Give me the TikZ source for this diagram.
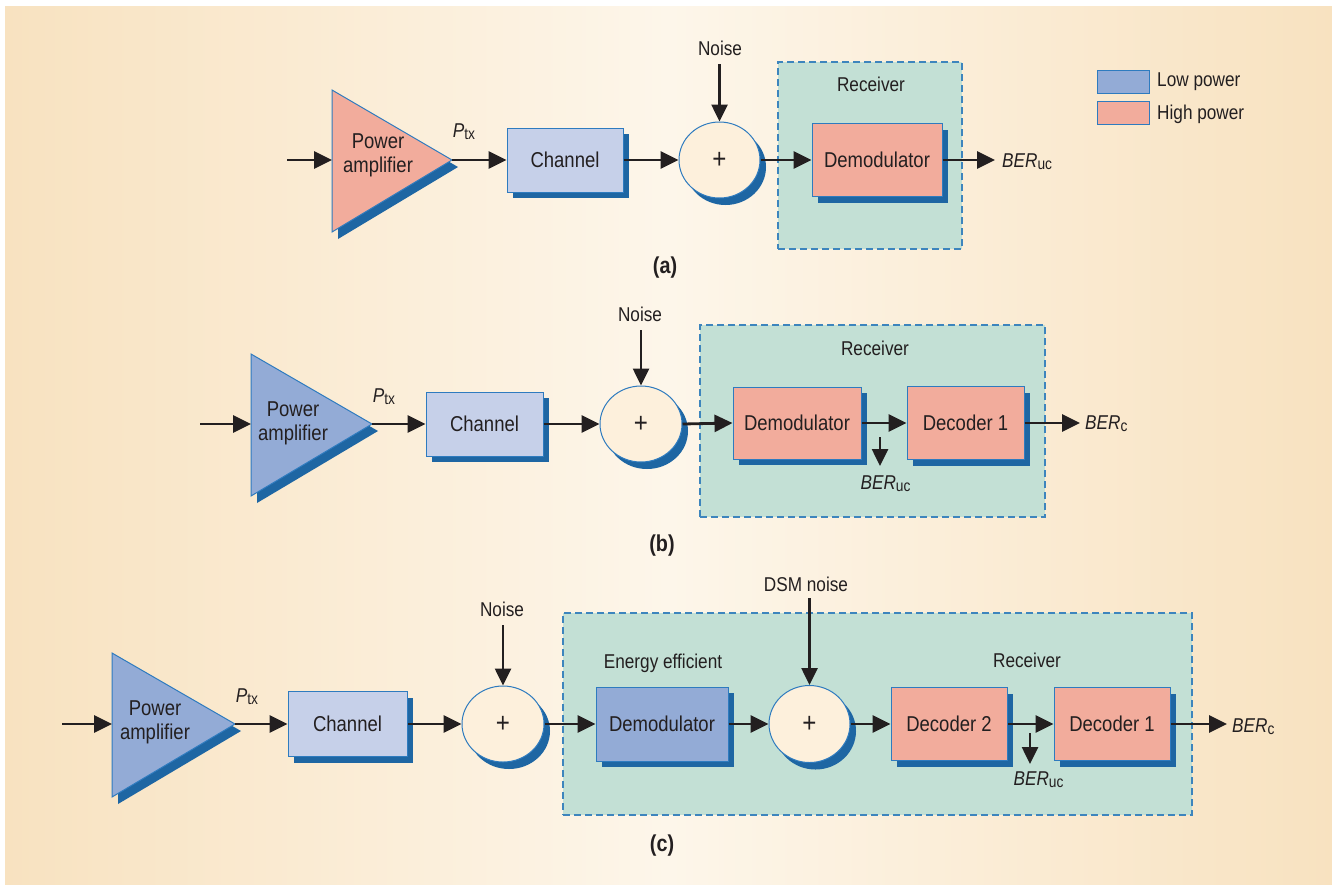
\documentclass[tikz,border=0pt]{standalone}
\usepackage{fontspec}
\setmainfont[FakeStretch=0.86]{Liberation Sans}
\usetikzlibrary{arrows.meta,shapes.geometric,shadows}
\definecolor{bgedge}{HTML}{F8E2C0}
\definecolor{bgmid}{HTML}{FDF6EA}
\definecolor{pinkf}{HTML}{F2AC9C}
\definecolor{chanf}{HTML}{C6D0E9}
\definecolor{lowf}{HTML}{93ABD6}
\definecolor{boxd}{HTML}{2E7BBF}
\definecolor{shadc}{HTML}{1E66A3}
\definecolor{sumf}{HTML}{FDF0DC}
\definecolor{recf}{HTML}{C3E0D5}
\definecolor{dashc}{HTML}{3D85BD}
\definecolor{txtc}{HTML}{231F20}
\newcommand\blkfont{\fontsize{21.5}{24}\selectfont}
\newcommand\lblfont{\fontsize{20}{23}\selectfont}
\newcommand\plusfont{\fontsize{28}{28}\selectfont}
\newcommand\subtx[1]{\raisebox{-2pt}{\fontsize{16}{16}\selectfont #1}}
\newcommand\BERx[1]{\textit{BER}\subtx{#1}}
\begin{document}
\begin{tikzpicture}[x=1pt,y=-1pt,
  blk/.style={draw=boxd, line width=1pt, inner sep=0pt, text=txtc, font=\blkfont,
    copy shadow={shadow xshift=6pt, shadow yshift=-6pt, fill=shadc, draw=none}},
  sumnode/.style={ellipse, draw=boxd, line width=1pt, fill=sumf, inner sep=0pt,
    minimum width=81pt, minimum height=76pt, text=txtc, font=\plusfont,
    copy shadow={shadow xshift=6pt, shadow yshift=-7pt, fill=shadc, draw=none}},
  recv/.style={draw=dashc, dash pattern=on 7pt off 4pt, line width=1.2pt, fill=recf, inner sep=0pt},
  arr/.style={draw=txtc, line width=2.8pt, -{Triangle[length=18pt,width=17pt]}},
  thinarr/.style={draw=txtc, line width=2.6pt, -{Triangle[length=17pt,width=16pt]}},
  lbl/.style={text=txtc, font=\lblfont, inner sep=0pt},
  caplbl/.style={text=txtc, font=\fontsize{23}{23}\selectfont\bfseries, inner sep=0pt},
  ampf/.style={draw=boxd, line width=1pt},
  legbox/.style={draw=boxd, line width=1pt, minimum width=52pt, minimum height=23pt, inner sep=0pt}
]
\useasboundingbox (0,0) rectangle (1332,884);
\fill[left color=bgedge, right color=bgedge, middle color=bgmid] (5,6) rectangle (1332,884);

% legend
\node[legbox, fill=lowf] (legL) at (1123,81.5) {};
\node[legbox, fill=pinkf] (legH) at (1123,113) {};
\node[lbl, anchor=west] (legLt) at (1157,82) {Low power};
\node[lbl, anchor=west] (legHt) at (1157,114) {High power};

% ================= (a) =================
\node[recv, minimum width=184pt, minimum height=187pt] (recA) at (870,155.5) {};
\node[lbl] (recAt) at (871,84) {Receiver};
\fill[shadc] (338,97) -- (338,239) -- (458,167) -- cycle;
\filldraw[ampf, fill=pinkf] (332,90) -- (332,232) -- (452,160) -- cycle;
\coordinate (ampAin) at (332,160);
\coordinate (ampAout) at (452,160);
\node[text=txtc, font=\blkfont, align=center, inner sep=0pt] (ampAt) at (378,155) {Power\\amplifier};
\coordinate (inA) at (287,160);
\node[lbl] (ptxA) at (464,132) {\textit{P}\subtx{tx}};
\node[blk, fill=chanf, minimum width=116pt, minimum height=64pt] (chA) at (565,160) {Channel};
\node[sumnode] (sumA) at (719.5,160) {+};
\node[lbl] (noiseA) at (720,48) {Noise};
\coordinate (nA) at (719.5,64);
\node[blk, fill=pinkf, minimum width=130pt, minimum height=73pt] (demA) at (877,160) {Demodulator};
\node[lbl, anchor=west] (berA) at (1002,162) {\BERx{uc}};
\coordinate (berAin) at (995,160);
\draw[arr] (inA) -- (ampAin);
\draw[arr] (ampAout) -- (chA.west);
\draw[arr] (chA.east) -- (sumA.west);
\draw[thinarr] (nA) -- (sumA.north);
\draw[arr] (sumA.east) -- (demA.west);
\draw[arr] (demA.east) -- (berAin);
\node[caplbl] (capA) at (665,268) {(a)};

% ================= (b) =================
\node[recv, minimum width=345pt, minimum height=192pt] (recB) at (872.5,421) {};
\node[lbl] (recBt) at (875,348) {Receiver};
\fill[shadc] (257,361) -- (257,503) -- (378,431) -- cycle;
\filldraw[ampf, fill=lowf] (251,354) -- (251,496) -- (372,424) -- cycle;
\coordinate (ampBin) at (251,424);
\coordinate (ampBout) at (372,424);
\node[text=txtc, font=\blkfont, align=center, inner sep=0pt] (ampBt) at (293,423.5) {Power\\amplifier};
\coordinate (inB) at (200,424);
\node[lbl] (ptxB) at (384,397) {\textit{P}\subtx{tx}};
\node[blk, fill=chanf, minimum width=117pt, minimum height=64pt] (chB) at (484.5,424) {Channel};
\node[sumnode, minimum width=82pt] (sumB) at (641,424) {+};
\node[lbl] (noiseB) at (640,314) {Noise};
\coordinate (nB) at (641,330);
\node[blk, fill=pinkf, minimum width=128pt, minimum height=72pt] (demB) at (797,423) {Demodulator};
\node[blk, fill=pinkf, minimum width=117pt, minimum height=73pt] (decB) at (965.5,423) {Decoder 1};
\coordinate (dB) at (880,437);
\coordinate (dBend) at (880,466);
\node[lbl] (berucB) at (885.5,484) {\BERx{uc}};
\node[lbl, anchor=west] (bercB) at (1085,424) {\BERx{c}};
\coordinate (bercBin) at (1080,423);
\draw[arr] (inB) -- (ampBin);
\draw[arr] (ampBout) -- (chB.west);
\draw[arr] (chB.east) -- (sumB.west);
\draw[thinarr] (nB) -- (sumB.north);
\draw[arr] (sumB.east) -- (demB.west);
\draw[arr] (demB.east) -- (decB.west);
\draw[thinarr] (dB) -- (dBend);
\draw[arr] (decB.east) -- (bercBin);
\node[caplbl] (capB) at (662,546) {(b)};

% ================= (c) =================
\node[recv, minimum width=629pt, minimum height=202pt] (recC) at (877.5,714) {};
\node[lbl] (effC) at (663,663) {Energy efficient};
\node[lbl] (recCt) at (1027,660) {Receiver};
\fill[shadc] (118,660) -- (118,804) -- (241,731) -- cycle;
\filldraw[ampf, fill=lowf] (112,653) -- (112,797) -- (235,724) -- cycle;
\coordinate (ampCin) at (112,724);
\coordinate (ampCout) at (235,724);
\node[text=txtc, font=\blkfont, align=center, inner sep=0pt] (ampCt) at (155,722.5) {Power\\amplifier};
\coordinate (inC) at (62,724);
\node[lbl] (ptxC) at (247,697) {\textit{P}\subtx{tx}};
\node[blk, fill=chanf, minimum width=119pt, minimum height=65pt] (chC) at (347.5,724) {Channel};
\node[sumnode, minimum width=82pt] (sumC) at (503,724) {+};
\node[lbl] (noiseC) at (502,609) {Noise};
\coordinate (nC) at (503,625);
\node[blk, fill=lowf, minimum width=132pt, minimum height=74pt] (demC) at (662,724) {Demodulator};
\node[sumnode, minimum height=77pt] (sum2C) at (809.5,724) {+};
\node[lbl] (dsmC) at (806,584) {DSM noise};
\coordinate (n2C) at (809.5,598);
\node[blk, fill=pinkf, minimum width=116pt, minimum height=73pt] (dec2C) at (949,724) {Decoder 2};
\node[blk, fill=pinkf, minimum width=116pt, minimum height=73pt] (dec1C) at (1112,724) {Decoder 1};
\coordinate (dC) at (1030,733);
\coordinate (dCend) at (1030,764);
\node[lbl] (berucC) at (1038.5,780) {\BERx{uc}};
\node[lbl, anchor=west] (bercC) at (1232,727) {\BERx{c}};
\coordinate (bercCin) at (1227,724);
\draw[arr] (inC) -- (ampCin);
\draw[arr] (ampCout) -- (chC.west);
\draw[arr] (chC.east) -- (sumC.west);
\draw[thinarr] (nC) -- (sumC.north);
\draw[arr] (sumC.east) -- (demC.west);
\draw[arr] (demC.east) -- (sum2C.west);
\draw[thinarr] (n2C) -- (sum2C.north);
\draw[arr] (sum2C.east) -- (dec2C.west);
\draw[arr] (dec2C.east) -- (dec1C.west);
\draw[thinarr] (dC) -- (dCend);
\draw[arr] (dec1C.east) -- (bercCin);
\node[caplbl] (capC) at (662,846) {(c)};
\end{tikzpicture}
\end{document}
